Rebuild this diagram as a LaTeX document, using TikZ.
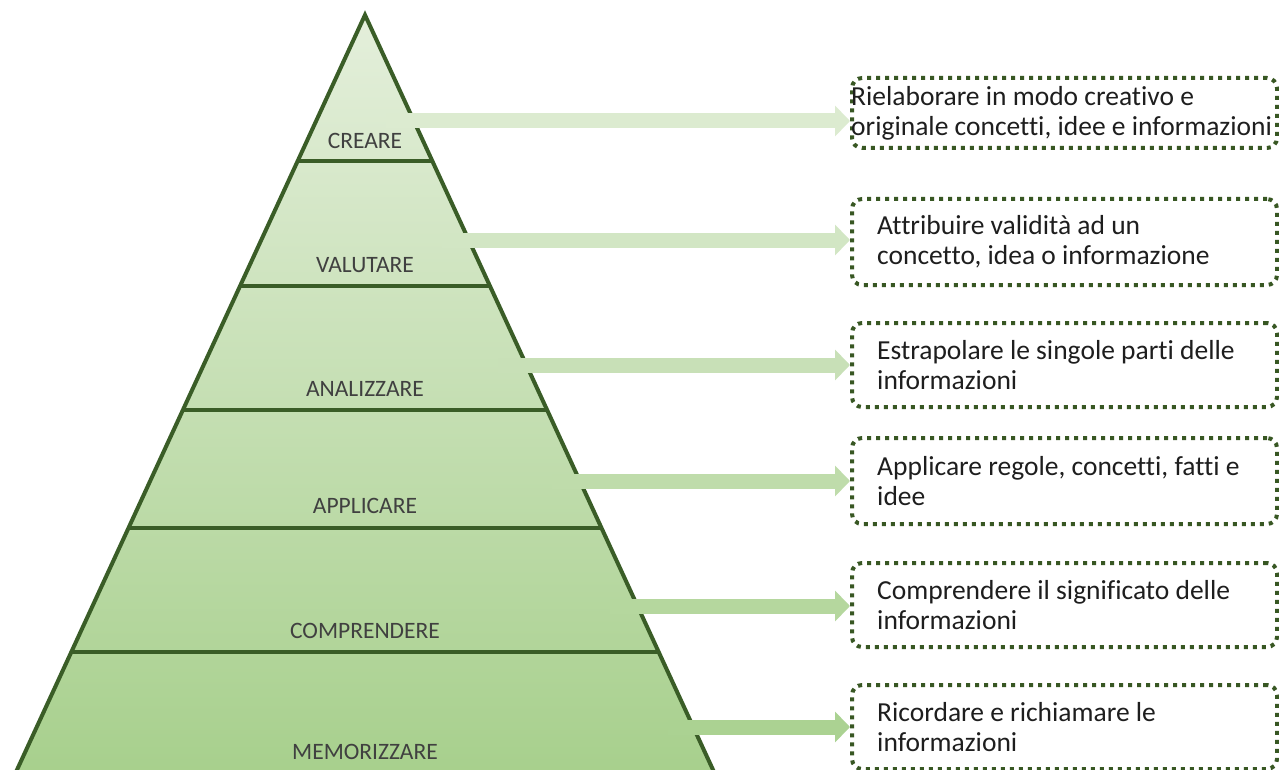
\documentclass[tikz,border=0pt]{standalone}
\usepackage{fontspec}
\setmainfont{Carlito}[Ligatures=NoCommon]
\usetikzlibrary{arrows.meta,calc}
\definecolor{edgegreen}{HTML}{3A5D27}
\definecolor{dotgreen}{HTML}{385723}
\definecolor{pyrtop}{HTML}{E4EFDB}
\definecolor{pyrbot}{HTML}{A6CF8B}
\definecolor{aone}{HTML}{DCEBD0}
\definecolor{atwo}{HTML}{D2E6C4}
\definecolor{athree}{HTML}{C8E0B7}
\definecolor{afour}{HTML}{BFDCAB}
\definecolor{afive}{HTML}{B5D79E}
\definecolor{asix}{HTML}{ABD292}
\definecolor{labgray}{HTML}{404040}
\definecolor{txtdark}{HTML}{1E1E1E}
\tikzset{
  edgeline/.style={draw=edgegreen, line width=4pt},
  lab/.style={font=\fontsize{23.5}{28}\selectfont, text=labgray, inner sep=0pt},
  dotbox/.style={draw=dotgreen, line width=4pt, dash pattern=on 4pt off 5pt,
    rounded corners=10pt, minimum width=425pt, inner sep=0pt},
  desc/.style={font=\fontsize{27.5}{30}\selectfont, text=txtdark, align=left, inner sep=0pt},
  fatarrow/.style={line width=15pt, -{Triangle[length=15pt,width=30pt]}}
}
\begin{document}
\begin{tikzpicture}[x=1pt,y=-1pt]
\useasboundingbox[fill=white] (0,0) rectangle (1279,770);
% pyramid
\coordinate (apex) at (365,15);
\coordinate (bl) at (7.7,790);
\coordinate (br) at (722.3,790);
\shade[top color=pyrtop, bottom color=pyrbot] (apex) -- (br) -- (bl) -- cycle;
\draw[edgeline, line join=miter] (bl) -- (apex) -- (br);
% dividers
\coordinate (d1l) at (297.7,161); \coordinate (d1r) at (432.3,161);
\coordinate (d2l) at (240.1,286); \coordinate (d2r) at (489.9,286);
\coordinate (d3l) at (182.9,410); \coordinate (d3r) at (547.1,410);
\coordinate (d4l) at (128.5,528); \coordinate (d4r) at (601.5,528);
\coordinate (d5l) at (71.3,652);  \coordinate (d5r) at (658.7,652);
\foreach \i in {1,...,5} { \draw[edgeline] (d\i l) -- (d\i r); }
% labels
\node[lab] (l1) at (365,141) {CREARE};
\node[lab] (l2) at (365,265) {VALUTARE};
\node[lab] (l3) at (365,389) {ANALIZZARE};
\node[lab] (l4) at (365,506) {APPLICARE};
\node[lab] (l5) at (365,631) {COMPRENDERE};
\node[lab] (l6) at (365,752) {MEMORIZZARE};
% boxes
\node[dotbox, minimum height=70pt] (b1) at (1064.5,113) {};
\node[dotbox, minimum height=86pt] (b2) at (1064.5,242) {};
\node[dotbox, minimum height=84pt] (b3) at (1064.5,365) {};
\node[dotbox, minimum height=86pt] (b4) at (1064.5,481) {};
\node[dotbox, minimum height=84pt] (b5) at (1064.5,605) {};
\node[dotbox, minimum height=84pt] (b6) at (1064.5,727) {};
\node[desc, anchor=west] (t1) at ([xshift=1pt]b1.west) {Rielaborare in modo creativo e\\originale concetti, idee e informazioni};
\node[desc, anchor=west] (t2) at ([xshift=27pt]b2.west) {Attribuire validità ad un\\concetto, idea o informazione};
\node[desc, anchor=west] (t3) at ([xshift=27pt]b3.west) {Estrapolare le singole parti delle\\informazioni};
\node[desc, anchor=west] (t4) at ([xshift=27pt]b4.west) {Applicare regole, concetti, fatti e\\idee};
\node[desc, anchor=west] (t5) at ([xshift=27pt]b5.west) {Comprendere il significato delle\\informazioni};
\node[desc, anchor=west] (t6) at ([xshift=27pt]b6.west) {Ricordare e richiamare le\\informazioni};
% arrows
\coordinate (s1) at (386,121);
\coordinate (s2) at (442,240);
\coordinate (s3) at (498,365);
\coordinate (s4) at (552,481);
\coordinate (s5) at (610,606);
\coordinate (s6) at (668,727);
\draw[fatarrow, draw=aone] (s1) -- (b1.west |- s1);
\draw[fatarrow, draw=atwo] (s2) -- (b2.west |- s2);
\draw[fatarrow, draw=athree] (s3) -- (b3.west |- s3);
\draw[fatarrow, draw=afour] (s4) -- (b4.west |- s4);
\draw[fatarrow, draw=afive] (s5) -- (b5.west |- s5);
\draw[fatarrow, draw=asix] (s6) -- (b6.west |- s6);
\end{tikzpicture}
\end{document}
